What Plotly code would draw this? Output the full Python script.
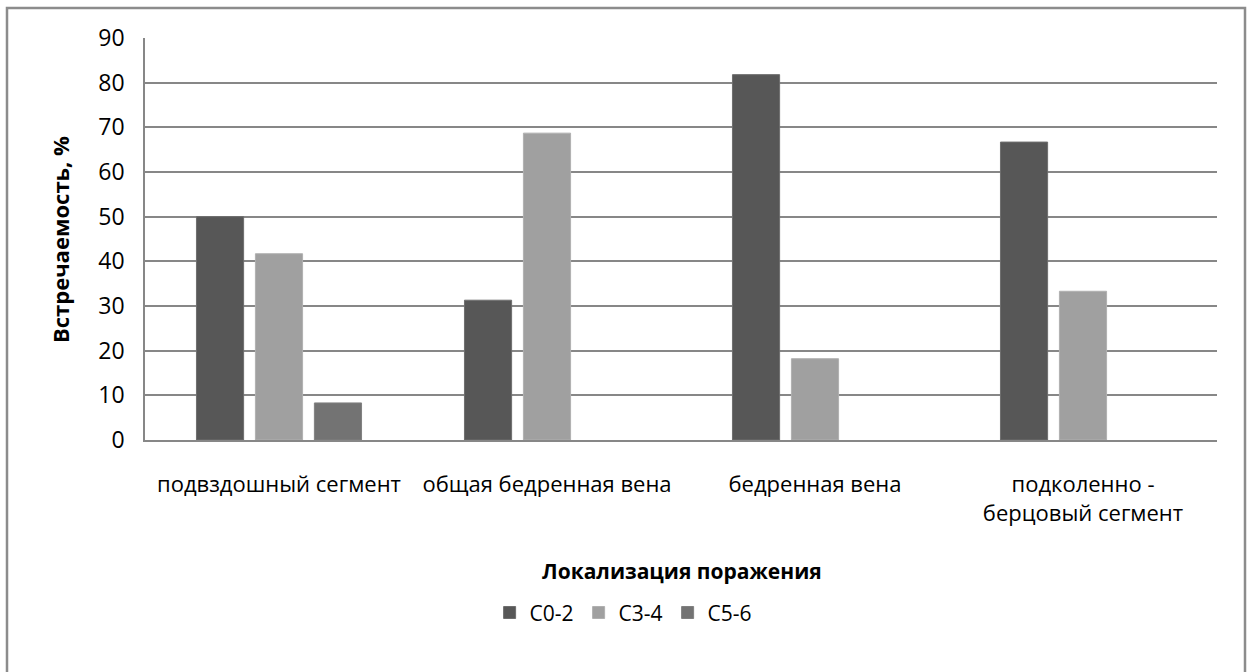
import plotly.graph_objects as go

categories = ["подвздошный сегмент", "общая бедренная вена", "бедренная вена", "подколенно -<br>берцовый сегмент"]
series_names = ["C0-2", "C3-4", "C5-6"]
c02 = [50.0, 31.3, 81.8, 66.7]
c34 = [41.7, 68.7, 18.2, 33.3]
c56 = [8.3, 0, 0, 0]
y_ticks = [0, 10, 20, 30, 40, 50, 60, 70, 80, 90]

colors = ["#575757", "#a0a0a0", "#737373"]
edge = ["#6e6e6e", "#b0b0b0", "#808080"]
FONT = "Open Sans"

fig = go.Figure()
for name, vals, c, e in zip(series_names, [c02, c34, c56], colors, edge):
    fig.add_trace(go.Bar(x=categories, y=vals, name=name,
                         marker=dict(color=c, line=dict(color=e, width=[1 if v > 0 else 0 for v in vals]))))

fig.update_layout(
    width=1253, height=672,
    margin=dict(l=145, r=36, t=38, b=232),
    paper_bgcolor="white", plot_bgcolor="white",
    barmode="group", bargap=0.34, bargroupgap=0.2,
    font=dict(family=FONT, size=22, color="#000000"),
    showlegend=True,
    legend=dict(orientation="h", x=0.446, xanchor="center", y=-0.43, yanchor="middle",
                font=dict(size=21), itemwidth=30, traceorder="normal"),
    xaxis=dict(showline=True, linecolor="#878787", linewidth=1.5, ticks="",
               ticklabelstandoff=24, tickfont=dict(size=22)),
    yaxis=dict(range=[0, 90], tickvals=y_ticks, showgrid=True, gridcolor="#878787",
               gridwidth=1.5, showline=True, linecolor="#878787", linewidth=1.5,
               ticks="", ticklabelstandoff=14, tickfont=dict(size=23), zeroline=False),
    annotations=[
        dict(text="<b>Встречаемость, %</b>", xref="paper", yref="paper",
             x=(60 - 145) / 1072, y=0.5, textangle=-90, showarrow=False,
             font=dict(size=22), xanchor="center", yanchor="middle"),
        dict(text="<b>Локализация поражения</b>", xref="paper", yref="paper",
             x=(682 - 145) / 1072, y=(440 - 571) / 402, showarrow=False,
             font=dict(size=21), xanchor="center", yanchor="middle"),
    ],
    shapes=[dict(type="rect", xref="paper", yref="paper",
                 x0=(7 - 145) / 1072, x1=(1245 - 145) / 1072,
                 y0=-0.7, y1=(440 - 8) / 402,
                 line=dict(color="#8c8c8c", width=2.5), fillcolor="rgba(0,0,0,0)", layer="below")],
)

fig.write_html("out.html", config={"displayModeBar": False},
               post_script="document.body.style.margin='0';")
